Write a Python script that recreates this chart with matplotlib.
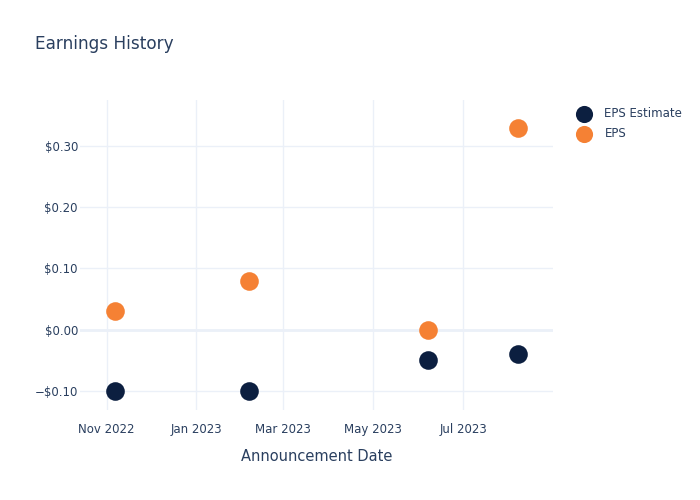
import matplotlib
matplotlib.use("Agg")
import matplotlib.pyplot as plt
from matplotlib.ticker import FuncFormatter
import pandas as pd

# data
dates = pd.to_datetime(["2022-11-07", "2023-02-06", "2023-06-07", "2023-08-07"])
eps_estimate = [-0.10, -0.10, -0.05, -0.04]
eps = [0.03, 0.08, 0.00, 0.33]

tick_dates = pd.to_datetime(["2022-11-01", "2023-01-01", "2023-03-01", "2023-05-01", "2023-07-01"])
tick_labels = ["Nov 2022", "Jan 2023", "Mar 2023", "May 2023", "Jul 2023"]
y_ticks = [-0.10, 0.00, 0.10, 0.20, 0.30]

txt = "#2a3f5f"
grid = "#ebf0f8"

plt.rcParams['font.family'] = ['DejaVu Sans']

fig = plt.figure(figsize=(7, 5), dpi=100)
ax = fig.add_axes([0.1143, 0.18, 0.6757, 0.62])

ax.scatter(dates, eps_estimate, s=180, color="#0c1f40", label="EPS Estimate", zorder=3, linewidths=0)
ax.scatter(dates, eps, s=180, color="#f58134", label="EPS", zorder=3, linewidths=0)

ax.set_xlim(pd.Timestamp("2022-10-14"), pd.Timestamp("2023-08-31"))
ax.set_ylim(-0.131, 0.375)

ax.set_xticks(tick_dates)
ax.set_xticklabels(tick_labels)
ax.set_yticks(y_ticks)
ax.yaxis.set_major_formatter(FuncFormatter(lambda v, p: ("\u2212$%.2f" % abs(v)) if v < -1e-9 else "$%.2f" % abs(v)))

ax.grid(True, color=grid, linewidth=1)
ax.axhline(0, color=grid, linewidth=2, zorder=1)
for s in ax.spines.values():
    s.set_visible(False)
ax.tick_params(length=0, colors=txt, labelsize=8.5)
ax.tick_params(axis="x", pad=9.5)
ax.tick_params(axis="y", pad=1.5)
ax.set_axisbelow(True)

ax.set_xlabel("Announcement Date", color=txt, fontsize=10.5, labelpad=9)
fig.text(0.05, 0.912, "Earnings History", color=txt, fontsize=12.2, va="center")

leg = ax.legend(loc="upper left", bbox_to_anchor=(1.03, 0.993), frameon=False,
                fontsize=8.5, labelcolor=txt, handletextpad=0.75, borderaxespad=0,
                labelspacing=0.6, markerscale=0.92)

fig.savefig("out.png", dpi=100)
